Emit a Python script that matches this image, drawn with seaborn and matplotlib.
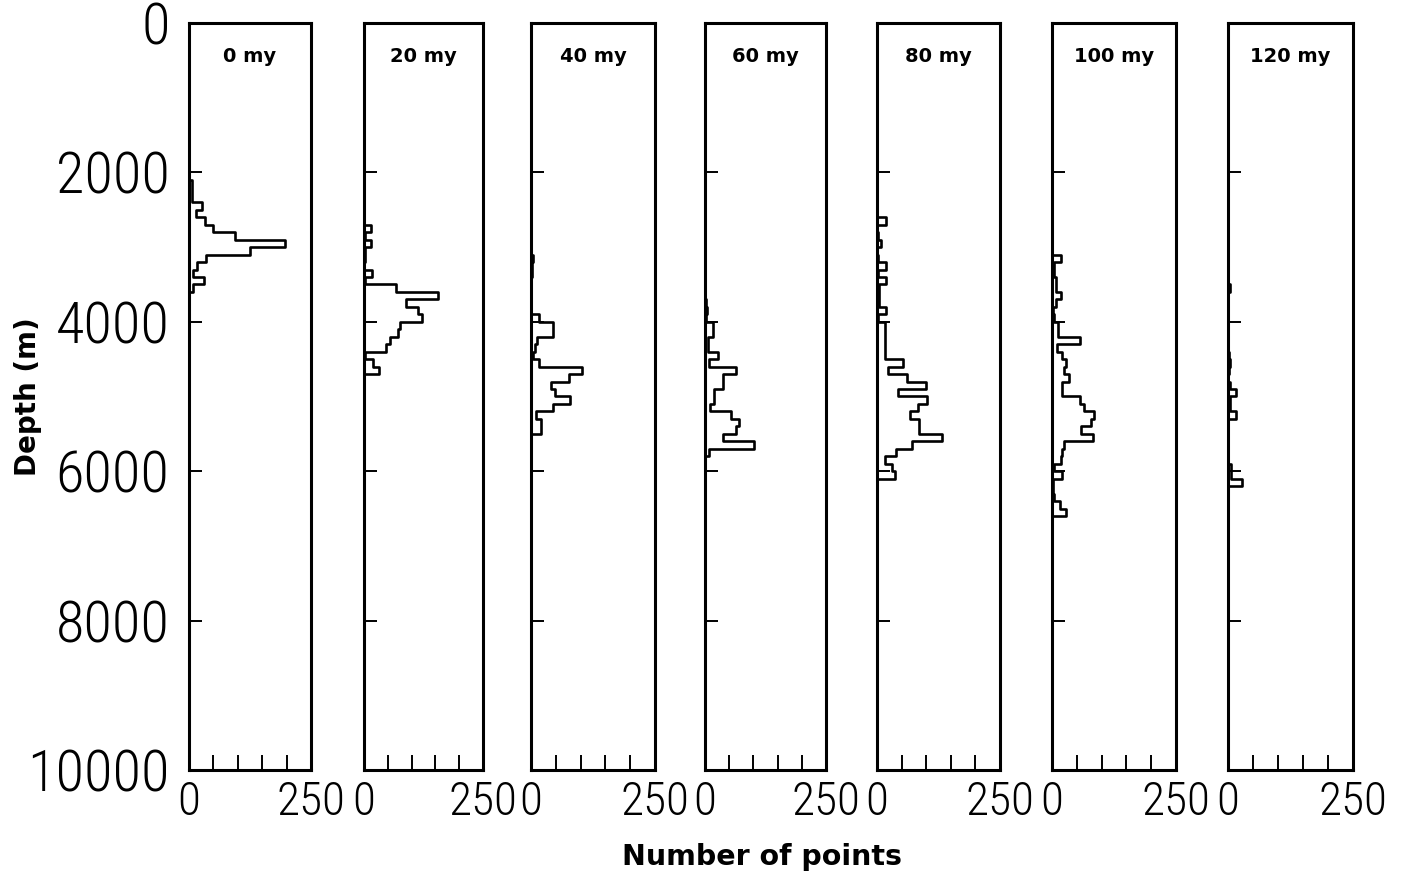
import numpy as np
import pandas as pd
import matplotlib
matplotlib.use("Agg")
import matplotlib.pyplot as plt
from matplotlib import font_manager as fm
import seaborn as sns

# ---------------------------------------------------------------- data
BIN = 100  # depth bin height (m)

ages = ["0 my", "20 my", "40 my", "60 my", "80 my", "100 my", "120 my"]

# shallowest bin top (m) for each time slice
first_bin = [2100, 2700, 3100, 3700, 2600, 3100, 3500]

# number of points per 100 m depth bin, from first_bin downwards
counts_0my = [7, 7, 7, 27, 14, 32, 49, 95, 196, 125, 34, 17, 9, 30, 9]
counts_20my = [15, 3, 14, 3, 3, 0, 17, 2, 67, 155, 88, 114, 122, 75, 72, 54,
               47, 3, 19, 31]
counts_40my = [4, 2, 3, 0, 0, 0, 0, 0, 17, 44, 44, 13, 8, 4, 17, 103, 77, 40,
               49, 78, 44, 10, 20, 20]
counts_60my = [3, 4, 3, 16, 16, 6, 6, 26, 9, 64, 37, 37, 18, 18, 10, 54, 71,
               64, 37, 102, 9]
counts_80my = [18, 0, 2, 8, 0, 2, 18, 3, 18, 4, 5, 4, 19, 3, 17, 17, 17, 17,
               17, 53, 22, 60, 99, 43, 102, 84, 68, 85, 85, 133, 72, 39, 16,
               31, 36]
counts_100my = [18, 5, 5, 9, 9, 19, 8, 2, 4, 12, 12, 56, 11, 20, 28, 25, 35,
                20, 20, 56, 65, 85, 78, 58, 82, 25, 20, 18, 4, 21, 3, 3, 5,
                16, 28]
counts_120my = [3, 0, 0, 0, 0, 0, 0, 0, 0, 2, 4, 2, 0, 4, 16, 3, 3, 15, 0, 0,
                0, 0, 0, 0, 5, 6, 28]

all_counts = [counts_0my, counts_20my, counts_40my, counts_60my,
              counts_80my, counts_100my, counts_120my]

depth_ticks = [0, 2000, 4000, 6000, 8000, 10000]
count_ticks = [0, 250]
count_minor_ticks = [50, 100, 150, 200]

# ---------------------------------------------------------------- style
sns.set_theme(style="ticks")
plt.rcParams["font.family"] = ["DejaVu Sans"]
for key in ["text.color", "axes.labelcolor", "xtick.color", "ytick.color",
            "axes.edgecolor"]:
    plt.rcParams[key] = "black"


def thin_number_font():
    """Pick a light, preferably condensed, sans face for the axis numbers."""
    prefs = ["Roboto Condensed", "Open Sans Condensed", "DejaVu Sans",
             "Roboto", "Lato", "Open Sans", "Noto Sans", "Liberation Sans"]
    best, best_score = None, None
    for entry in fm.fontManager.ttflist:
        if entry.name not in prefs or entry.style != "normal":
            continue
        w = entry.weight if isinstance(entry.weight, int) else 400
        stretch = str(entry.stretch)
        condensed = "condensed" in stretch or stretch in ("semi-condensed",)
        score = abs(w - 300) + (0 if condensed else 120) + prefs.index(entry.name) * 5
        if best_score is None or score < best_score:
            best, best_score = entry, score
    return best.fname if best is not None else None


num_fname = thin_number_font()


def num_props(size):
    if num_fname:
        return fm.FontProperties(fname=num_fname, size=size)
    return fm.FontProperties(family="DejaVu Sans", size=size)


W, H = 1403, 888
fig = plt.figure(figsize=(W / 100, H / 100), dpi=100)
fig.patch.set_facecolor("white")

panel_left_px = [189, 364, 531, 705, 877, 1052, 1228]
panel_right_px = [311, 483, 655, 826, 1000, 1176, 1353]
top_px, bottom_px = 23, 770

for i, (age, start, cnt) in enumerate(zip(ages, first_bin, all_counts)):
    ax = fig.add_axes([panel_left_px[i] / W, 1 - bottom_px / H,
                       (panel_right_px[i] - panel_left_px[i]) / W,
                       (bottom_px - top_px) / H])
    n = len(cnt)
    # pad with empty bins so the outline closes on the zero line
    padded = np.r_[0, cnt, 0]
    lo = start - BIN
    hi = start + BIN * (n + 1)
    centers = lo + BIN / 2 + BIN * np.arange(n + 2)
    df = pd.DataFrame({"depth": centers, "points": padded})
    sns.histplot(data=df, y="depth", weights="points", binwidth=BIN,
                 binrange=(lo, hi), element="step", fill=False,
                 color="black", linewidth=1.9, ax=ax)
    ax.set_ylim(10000, 0)
    ax.set_xlim(0, 250)
    ax.set_xlabel("")
    ax.set_ylabel("")
    ax.set_facecolor("white")
    for s in ax.spines.values():
        s.set_visible(True)
        s.set_linewidth(2.2)
        s.set_color("black")

    ax.set_yticks(depth_ticks)
    ax.set_xticks(count_ticks)
    ax.set_xticks(count_minor_ticks, minor=True)
    ax.set_xticklabels(["0", "250"])
    for lab in ax.get_xticklabels():
        lab.set_fontproperties(num_props(34))
        lab.set_color("black")
    ax.tick_params(axis="x", which="major", length=0, pad=7)
    ax.tick_params(axis="x", which="minor", direction="in", length=10.5,
                   width=1.4, color="black")
    ax.tick_params(axis="y", which="major", direction="in", length=9.5,
                   width=1.4, color="black", pad=14)
    if i == 0:
        ax.set_yticklabels([str(t) for t in depth_ticks])
        for lab in ax.get_yticklabels():
            lab.set_fontproperties(num_props(42))
            lab.set_color("black")
    else:
        ax.tick_params(axis="y", labelleft=False)

    ax.text(0.5, 0.955, age, transform=ax.transAxes, ha="center",
            va="center", fontsize=14, fontweight="bold", color="black",
            family=["DejaVu Sans"])

fig.text(762 / W, 1 - 857 / H, "Number of points", ha="center", va="center",
         fontsize=20.5, fontweight="bold", color="black", family=["DejaVu Sans"])
fig.text(28 / W, 1 - 397 / H, "Depth (m)", ha="center", va="center",
         rotation=90, fontsize=20, fontweight="bold", color="black",
         family=["DejaVu Sans"])

fig.savefig("out.png", dpi=100, facecolor="white")
